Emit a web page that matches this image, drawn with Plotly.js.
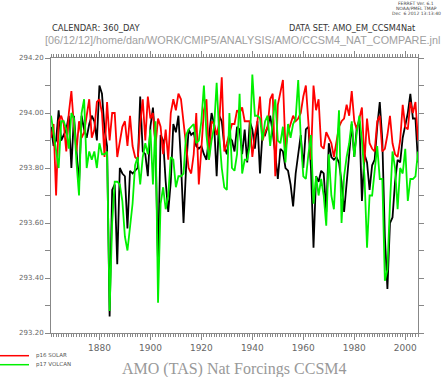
<!DOCTYPE html>
<html>
<head>
<meta charset="utf-8">
<script src="https://cdn.plot.ly/plotly-3.0.1.min.js"></script>
<style>html,body{margin:0;padding:0;background:#fff;}#chart{width:444px;height:377px;}</style>
</head>
<body>
<div id="chart"></div>
<script>
const years = [];
for (let y = 1861; y <= 2005; y++) years.push(y);

const blackAll = [
293.95,293.88,293.90,294.01,293.90,293.92,293.94,293.99,293.80,293.99,
293.85,293.74,293.99,293.94,293.91,293.96,293.99,293.97,293.90,294.10,
294.07,293.94,293.88,293.26,293.72,293.74,293.45,293.80,293.78,293.77,
293.58,293.79,293.78,293.79,293.80,294.06,293.86,293.85,293.77,293.95,
294.02,293.88,293.45,293.92,293.90,293.75,293.64,293.75,293.96,293.93,
293.99,293.82,293.60,293.80,293.94,293.92,293.93,293.88,293.87,293.88,
293.85,293.83,293.91,294.00,293.96,293.77,293.99,293.97,293.88,293.85,
293.91,293.90,293.86,293.95,293.94,293.85,293.94,293.82,293.97,293.94,
293.87,293.97,293.78,293.93,293.92,293.95,293.99,293.93,293.85,293.76,
293.87,293.86,293.80,293.79,293.74,293.66,293.78,293.85,293.92,293.80,
293.94,293.95,293.80,293.51,293.77,293.75,293.79,293.78,293.64,293.89,
293.84,293.83,293.84,293.82,293.75,293.64,293.76,293.85,293.96,293.84,
293.95,293.97,293.68,293.85,293.82,293.72,293.81,293.83,293.95,294.04,
293.90,293.55,293.36,293.60,293.62,293.75,293.83,293.82,293.91,293.95,
294.00,294.07,293.98,293.98,293.82
];
const solar = [
293.91,293.96,293.70,293.97,293.99,293.96,293.86,294.00,294.08,293.95,
293.86,293.97,293.91,293.93,293.99,294.05,293.91,293.94,294.04,294.05,
294.00,293.84,294.04,293.90,294.00,294.00,293.84,293.90,293.95,293.97,
293.88,293.99,293.88,293.84,293.83,293.96,294.05,293.90,294.06,293.98,
294.00,293.88,293.98,293.95,293.85,293.94,293.83,294.00,294.05,294.01,
294.07,294.05,293.96,293.87,293.80,293.78,293.85,294.00,293.74,293.87,
294.01,294.05,293.83,293.97,293.96,293.92,293.96,294.13,293.86,293.89,
293.93,293.96,293.96,294.01,294.00,294.02,293.97,293.97,293.97,293.84,
293.92,293.97,294.06,293.90,293.93,293.95,294.05,294.07,293.77,294.03,
294.08,294.12,293.87,293.93,293.96,293.99,293.97,293.98,294.00,294.06,
294.10,293.95,293.83,294.10,294.01,294.05,293.88,293.87,293.93,293.91,
293.89,293.84,293.89,293.95,293.97,293.98,294.03,293.99,294.08,293.97,
293.94,293.98,294.02,293.82,293.98,293.89,293.87,293.86,293.97,293.99,
293.86,293.87,293.92,293.99,293.89,293.85,293.84,293.90,294.03,293.95,
293.94,294.04,294.00,294.04,293.90
];
const volcan = [
293.99,293.92,293.85,293.80,293.97,293.97,293.94,293.87,294.00,293.98,
293.82,293.70,294.00,294.05,293.80,293.86,293.83,293.86,293.80,293.89,
293.85,293.85,293.86,293.28,293.60,293.75,293.75,293.74,293.68,293.55,
293.50,293.59,293.67,293.81,293.84,293.74,293.84,293.89,293.85,293.94,
293.74,293.97,293.31,293.67,293.73,293.65,293.70,293.84,293.83,293.73,
293.77,293.77,293.78,293.92,293.94,293.95,293.96,293.89,293.90,293.97,
294.10,293.92,293.83,293.90,293.95,294.11,293.92,293.80,293.73,293.72,
294.00,293.80,293.79,293.85,294.07,293.78,293.83,293.83,293.88,294.14,
293.99,293.99,293.98,293.90,293.97,293.99,293.88,293.97,294.05,293.90,
293.89,293.95,293.82,293.96,293.91,293.96,293.98,294.12,293.91,293.77,
293.76,293.85,293.92,293.67,293.77,293.70,293.76,293.70,293.59,293.85,
293.70,293.65,293.85,294.01,293.60,293.77,293.84,293.89,293.97,293.84,
293.93,293.99,293.90,293.77,293.51,293.70,293.70,293.79,293.88,293.76,
293.76,293.39,293.43,293.67,293.86,293.80,293.65,293.80,293.78,293.87,
293.68,293.76,293.76,293.77,293.86
];
const seriesNames = ["ALL", "p16 SOLAR", "p17 VOLCAN"];
const xTicks = [1880, 1900, 1920, 1940, 1960, 1980, 2000];

// layout geometry (pixels)
const W = 444, H = 377, L = 51, R = 418, T = 58, B = 333;
const px = v => (v - L) / (R - L);
const py = v => (B - v) / (B - T);

const traces = [
  {x: years, y: blackAll, name: seriesNames[0], mode: 'lines', line: {color: '#000000', width: 1.8}},
  {x: years, y: solar, name: seriesNames[1], mode: 'lines', line: {color: '#ff0000', width: 1.8}},
  {x: years, y: volcan, name: seriesNames[2], mode: 'lines', line: {color: '#00f000', width: 1.8}}
];

const axisCommon = {
  showline: true, linecolor: '#888888', linewidth: 1, mirror: 'allticks',
  ticks: 'outside', tickcolor: '#888888', tickwidth: 1,
  showgrid: false, zeroline: false
};

const layout = {
  width: W, height: H,
  margin: {l: L, r: W - R, t: T, b: H - B, pad: 0},
  paper_bgcolor: '#ffffff', plot_bgcolor: '#ffffff',
  showlegend: false,
  xaxis: Object.assign({}, axisCommon, {
    range: [1861, 2005], tickvals: xTicks, ticktext: xTicks.map(String), ticklen: 6,
    minor: {dtick: 1, tick0: 1860, ticklen: 3, tickcolor: '#888888', ticks: 'outside'},
    tickfont: {family: 'DejaVu Sans', size: 9, color: '#666666'}
  }),
  yaxis: Object.assign({}, axisCommon, {
    range: [293.2, 294.2], tick0: 293.2, dtick: 0.2, tickformat: '.2f', ticklen: 5,
    minor: {dtick: 0.1, tick0: 293.2, ticklen: 5, tickcolor: '#888888', ticks: 'outside'},
    tickfont: {family: 'DejaVu Sans', size: 7, color: '#666666'}
  }),
  shapes: [
    {type: 'line', xref: 'paper', yref: 'paper', x0: px(0), x1: px(29), y0: py(355.7), y1: py(355.7), line: {color: '#ff0000', width: 1.5}},
    {type: 'line', xref: 'paper', yref: 'paper', x0: px(0), x1: px(29), y0: py(364.7), y1: py(364.7), line: {color: '#00f000', width: 1.5}}
  ],
  annotations: [
    {text: seriesNames[1], xref: 'paper', yref: 'paper', x: px(34), y: py(355.7), xanchor: 'left', yanchor: 'middle', showarrow: false, font: {family: 'DejaVu Sans', size: 5.5, color: '#555555'}},
    {text: seriesNames[2], xref: 'paper', yref: 'paper', x: px(34), y: py(364.7), xanchor: 'left', yanchor: 'middle', showarrow: false, font: {family: 'DejaVu Sans', size: 5.5, color: '#555555'}},
    {text: 'AMO (TAS) Nat Forcings CCSM4', xref: 'paper', yref: 'paper', x: px(234), y: py(368.5), xanchor: 'center', yanchor: 'middle', showarrow: false, font: {family: 'Liberation Serif', size: 16, color: '#999999'}},
    {text: 'CALENDAR: 360_DAY', xref: 'paper', yref: 'paper', x: px(50), y: py(28), xanchor: 'left', yanchor: 'middle', showarrow: false, font: {family: 'DejaVu Sans', size: 8.4, color: '#333333'}},
    {text: 'DATA SET: AMO_EM_CCSM4Nat', xref: 'paper', yref: 'paper', x: px(418), y: py(28), xanchor: 'right', yanchor: 'middle', showarrow: false, font: {family: 'DejaVu Sans', size: 8.2, color: '#333333'}},
    {text: '[06/12/12]/home/dan/WORK/CMIP5/ANALYSIS/AMO/CCSM4_NAT_COMPARE.jnl', xref: 'paper', yref: 'paper', x: px(43), y: py(40), xanchor: 'left', yanchor: 'middle', showarrow: false, font: {family: 'Liberation Sans', size: 10.8, color: '#a0a0a0'}},
    {text: 'FERRET Ver. 6.1', xref: 'paper', yref: 'paper', x: px(416), y: py(3.5), xanchor: 'center', yanchor: 'middle', showarrow: false, font: {family: 'DejaVu Sans', size: 4.5, color: '#444444'}},
    {text: 'NOAA/PMEL TMAP', xref: 'paper', yref: 'paper', x: px(416), y: py(8.5), xanchor: 'center', yanchor: 'middle', showarrow: false, font: {family: 'DejaVu Sans', size: 4.5, color: '#444444'}},
    {text: 'Dec  6 2012 13:13:40', xref: 'paper', yref: 'paper', x: px(416), y: py(13.5), xanchor: 'center', yanchor: 'middle', showarrow: false, font: {family: 'DejaVu Sans', size: 4.5, color: '#444444'}}
  ]
};

Plotly.newPlot('chart', traces, layout, {staticPlot: true, displayModeBar: false});
</script>
</body>
</html>
